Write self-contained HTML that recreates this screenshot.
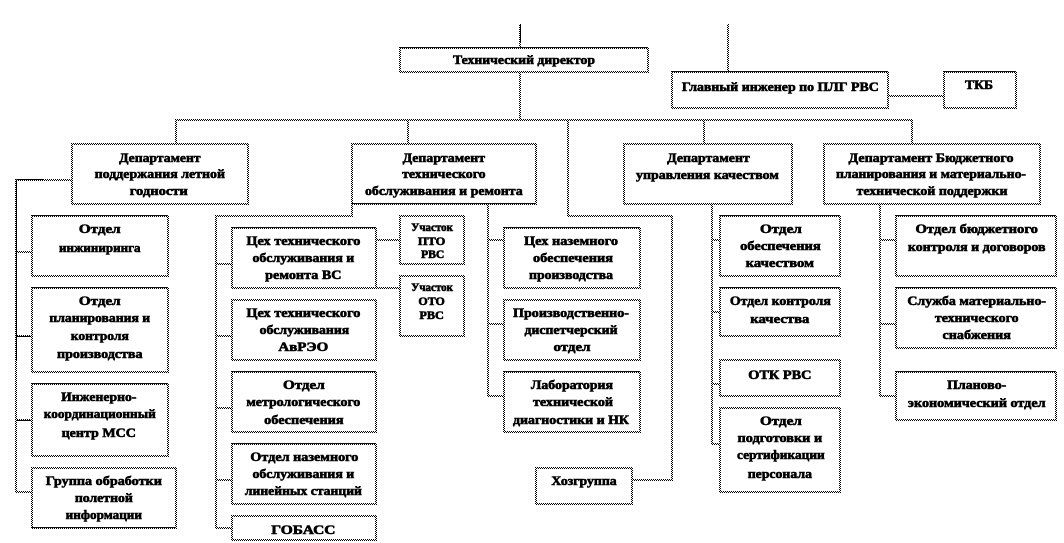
<!DOCTYPE html>
<html><head><meta charset="utf-8">
<style>
html,body{margin:0;padding:0;background:#fff;width:1064px;height:543px;overflow:hidden}
svg{display:block}
text{font-family:"Liberation Serif","DejaVu Serif",serif;font-weight:bold;font-size:13px;fill:#000;stroke:#000;stroke-width:.6;text-anchor:middle}
text.s{font-size:11.5px}
.l{fill:none;stroke:url(#c);stroke-width:2;shape-rendering:crispEdges}
.k{fill:none;stroke:#000;stroke-width:1;shape-rendering:crispEdges}
.b{fill:#fff;stroke:url(#c);stroke-width:2;shape-rendering:crispEdges}
.t{fill:none;stroke:#111;stroke-width:1;shape-rendering:crispEdges}
</style></head><body>
<svg width="1064" height="543" viewBox="0 0 1064 543" xmlns="http://www.w3.org/2000/svg">
<defs><pattern id="c" width="2" height="2" patternUnits="userSpaceOnUse"><rect width="2" height="2" fill="#fff"/><rect width="1" height="1" fill="#000"/><rect x="1" y="1" width="1" height="1" fill="#000"/></pattern></defs>

<!-- connectors -->
<path class="l" d="M520 24V120M176 144V120H912V144M408 120V144M704 120V144M568 120V216H672V480H632M728 24V72M888 96H944"/>
<path class="k" d="M520.500 24V42"/>
<path class="l" d="M72 180H16V492H32M16 252H32M16 336H32M16 420H32"/>
<path class="k" d="M16.500 179.500V360M16.500 179.500H43M16 336.500H32M16 420.500H32"/>
<path class="l" d="M352 204V216H216V528H232M216 264H232M216 336H232M216 408H232M216 480H232M376 240H400M376 288H400"/>
<path class="l" d="M488 204V396H504M488 240H504M488 324H504"/>
<path class="l" d="M712 204V444H720M712 240H720M712 312H720M712 384H720"/>
<path class="l" d="M880 204V396H896M880 240H896M880 324H896"/>

<!-- boxes -->
<rect class="b" x="400" y="48" width="248" height="24"/><path class="t" d="M400 47.500H648"/>
<rect class="b" x="672" y="72" width="216" height="36"/><path class="t" d="M672 71.500H888"/>
<rect class="b" x="944" y="72" width="72" height="36"/><path class="t" d="M944 71.500H1016"/>
<rect class="b" x="72" y="144" width="176" height="60"/>
<rect class="b" x="352" y="144" width="184" height="60"/><path class="t" d="M352 203.500H536"/>
<rect class="b" x="624" y="144" width="168" height="60"/>
<rect class="b" x="824" y="144" width="216" height="60"/>

<rect class="b" x="32" y="216" width="136" height="60"/><path class="t" d="M32 215.500H168"/>
<rect class="b" x="32" y="288" width="136" height="84"/><path class="t" d="M32 287.500H168"/>
<rect class="b" x="32" y="384" width="136" height="72"/><path class="t" d="M32 383.500H168"/>
<rect class="b" x="32" y="468" width="144" height="60"/><path class="t" d="M32 527.500H176"/>

<rect class="b" x="232" y="228" width="144" height="60"/><path class="t" d="M232 227.500H376"/>
<rect class="b" x="232" y="300" width="144" height="60"/>
<rect class="b" x="232" y="372" width="144" height="60"/><path class="t" d="M232 371.500H376"/>
<rect class="b" x="232" y="444" width="144" height="60"/><path class="t" d="M232 443.500H376"/>
<rect class="b" x="232" y="516" width="144" height="24"/>

<rect class="b" x="400" y="216" width="64" height="48"/>
<rect class="b" x="400" y="276" width="64" height="60"/>

<rect class="b" x="504" y="228" width="136" height="60"/><path class="t" d="M504 227.500H640"/>
<rect class="b" x="504" y="300" width="136" height="60"/>
<rect class="b" x="504" y="372" width="136" height="60"/><path class="t" d="M504 371.500H640"/>
<rect class="b" x="536" y="468" width="96" height="36"/>

<rect class="b" x="720" y="216" width="120" height="60"/><path class="t" d="M720 215.500H840"/>
<rect class="b" x="720" y="288" width="120" height="48"/><path class="t" d="M720 287.500H840"/>
<rect class="b" x="720" y="360" width="120" height="36"/>
<rect class="b" x="720" y="408" width="120" height="84"/>

<rect class="b" x="896" y="216" width="160" height="60"/><path class="t" d="M896 215.500H1056"/>
<rect class="b" x="896" y="288" width="160" height="60"/><path class="t" d="M896 287.500H1056"/>
<rect class="b" x="896" y="372" width="160" height="48"/><path class="t" d="M896 371.500H1056"/>

<!-- labels: absolute -->
<text x="524" y="64" textLength="142" lengthAdjust="spacingAndGlyphs">Технический директор</text>
<text x="979" y="89" textLength="28" lengthAdjust="spacingAndGlyphs">ТКБ</text>
<text x="931" y="162" textLength="165" lengthAdjust="spacingAndGlyphs">Департамент Бюджетного</text>
<text x="931" y="178" textLength="190" lengthAdjust="spacingAndGlyphs">планирования  и материально-</text>
<text x="932" y="195" textLength="151" lengthAdjust="spacingAndGlyphs">технической поддержки</text>

<text x="571" y="245" textLength="94" lengthAdjust="spacingAndGlyphs">Цех наземного</text>
<text x="573" y="262" textLength="80" lengthAdjust="spacingAndGlyphs">обеспечения</text>
<text x="571" y="279" textLength="84" lengthAdjust="spacingAndGlyphs">производства</text>
<text x="571" y="317" textLength="116" lengthAdjust="spacingAndGlyphs">Производственно-</text>
<text x="571" y="334" textLength="93" lengthAdjust="spacingAndGlyphs">диспетчерский</text>
<text x="572" y="351" textLength="37" lengthAdjust="spacingAndGlyphs">отдел</text>
<text x="572" y="389" textLength="82" lengthAdjust="spacingAndGlyphs">Лаборатория</text>
<text x="573" y="406" textLength="80" lengthAdjust="spacingAndGlyphs">технической</text>
<text x="571" y="424" textLength="116" lengthAdjust="spacingAndGlyphs">диагностики и НК</text>

<!-- labels: left half -->
<g transform="scale(1.018 1)">
<text x="157" y="162" textLength="80" lengthAdjust="spacingAndGlyphs">Департамент</text>
<text x="157" y="178" textLength="128" lengthAdjust="spacingAndGlyphs">поддержания летной</text>
<text x="156" y="195" textLength="57" lengthAdjust="spacingAndGlyphs">годности</text>

<text x="436" y="162" textLength="81" lengthAdjust="spacingAndGlyphs">Департамент</text>
<text x="436" y="178" textLength="82" lengthAdjust="spacingAndGlyphs">технического</text>
<text x="436" y="195" textLength="155" lengthAdjust="spacingAndGlyphs">обслуживания и ремонта</text>

<text x="98" y="233" textLength="41" lengthAdjust="spacingAndGlyphs">Отдел</text>
<text x="98" y="252" textLength="80" lengthAdjust="spacingAndGlyphs">инжиниринга</text>
<text x="98" y="305" textLength="41" lengthAdjust="spacingAndGlyphs">Отдел</text>
<text x="98" y="322" textLength="99" lengthAdjust="spacingAndGlyphs">планирования  и</text>
<text x="98" y="340" textLength="57" lengthAdjust="spacingAndGlyphs">контроля</text>
<text x="98" y="358" textLength="84" lengthAdjust="spacingAndGlyphs">производства</text>
<text x="97" y="401" textLength="74" lengthAdjust="spacingAndGlyphs">Инженерно-</text>
<text x="98" y="418" textLength="110" lengthAdjust="spacingAndGlyphs">координационный</text>
<text x="97" y="437" textLength="73" lengthAdjust="spacingAndGlyphs">центр МСС</text>
<text x="102" y="485" textLength="114" lengthAdjust="spacingAndGlyphs">Группа обработки</text>
<text x="102" y="502" textLength="57" lengthAdjust="spacingAndGlyphs">полетной</text>
<text x="102" y="519" textLength="75" lengthAdjust="spacingAndGlyphs">информации</text>

<text x="298" y="245" textLength="112" lengthAdjust="spacingAndGlyphs">Цех технического</text>
<text x="298" y="262" textLength="100" lengthAdjust="spacingAndGlyphs">обслуживания и</text>
<text x="298" y="279" textLength="75" lengthAdjust="spacingAndGlyphs">ремонта ВС</text>
<text x="298" y="317" textLength="112" lengthAdjust="spacingAndGlyphs">Цех технического</text>
<text x="299" y="334" textLength="88" lengthAdjust="spacingAndGlyphs">обслуживания</text>
<text x="298" y="351" textLength="49" lengthAdjust="spacingAndGlyphs">АвРЭО</text>
<text x="298.500" y="389" textLength="41" lengthAdjust="spacingAndGlyphs">Отдел</text>
<text x="298" y="406" textLength="112" lengthAdjust="spacingAndGlyphs">метрологического</text>
<text x="298.500" y="424" textLength="78" lengthAdjust="spacingAndGlyphs">обеспечения</text>
<text x="299" y="461" textLength="106" lengthAdjust="spacingAndGlyphs">Отдел наземного</text>
<text x="298" y="478" textLength="100" lengthAdjust="spacingAndGlyphs">обслуживания и</text>
<text x="298" y="495" textLength="115" lengthAdjust="spacingAndGlyphs">линейных  станций</text>
<text x="298" y="534" textLength="63" lengthAdjust="spacingAndGlyphs">ГОБАСС</text>

<text class="s" x="424.500" y="231" textLength="41" lengthAdjust="spacingAndGlyphs">Участок</text>
<text class="s" x="424" y="245" textLength="27" lengthAdjust="spacingAndGlyphs">ПТО</text>
<text class="s" x="425" y="258" textLength="23" lengthAdjust="spacingAndGlyphs">РВС</text>
<text class="s" x="424.500" y="291" textLength="41" lengthAdjust="spacingAndGlyphs">Участок</text>
<text class="s" x="424" y="305" textLength="26" lengthAdjust="spacingAndGlyphs">ОТО</text>
<text class="s" x="424" y="319" textLength="24" lengthAdjust="spacingAndGlyphs">РВС</text>
</g>

<!-- labels: right half -->
<g transform="translate(532 0) scale(1.02 1) translate(-532 0)">
<text x="775.500" y="91" textLength="193" lengthAdjust="spacingAndGlyphs">Главный инженер  по ПЛГ РВС</text>
<text x="705" y="162" textLength="81" lengthAdjust="spacingAndGlyphs">Департамент</text>
<text x="704" y="179" textLength="140" lengthAdjust="spacingAndGlyphs">управления  качеством</text>

<text x="583" y="485" textLength="64" lengthAdjust="spacingAndGlyphs">Хозгруппа</text>

<text x="776" y="233" textLength="41" lengthAdjust="spacingAndGlyphs">Отдел</text>
<text x="775.500" y="250" textLength="79" lengthAdjust="spacingAndGlyphs">обеспечения</text>
<text x="775" y="267" textLength="67" lengthAdjust="spacingAndGlyphs">качеством</text>
<text x="775.500" y="305" textLength="99" lengthAdjust="spacingAndGlyphs">Отдел контроля</text>
<text x="775" y="323" textLength="58" lengthAdjust="spacingAndGlyphs">качества</text>
<text x="775" y="379" textLength="62" lengthAdjust="spacingAndGlyphs">ОТК РВС</text>
<text x="776" y="425" textLength="41" lengthAdjust="spacingAndGlyphs">Отдел</text>
<text x="775" y="442" textLength="83" lengthAdjust="spacingAndGlyphs">подготовки и</text>
<text x="776" y="459" textLength="86" lengthAdjust="spacingAndGlyphs">сертификации</text>
<text x="775" y="478" textLength="63" lengthAdjust="spacingAndGlyphs">персонала</text>

<text x="968" y="233" textLength="120" lengthAdjust="spacingAndGlyphs">Отдел бюджетного</text>
<text x="968" y="251" textLength="135" lengthAdjust="spacingAndGlyphs">контроля и договоров</text>
<text x="968" y="305" textLength="136" lengthAdjust="spacingAndGlyphs">Служба материально-</text>
<text x="968" y="322" textLength="82" lengthAdjust="spacingAndGlyphs">технического</text>
<text x="968" y="339" textLength="67" lengthAdjust="spacingAndGlyphs">снабжения</text>
<text x="968" y="389" textLength="58" lengthAdjust="spacingAndGlyphs">Планово-</text>
<text x="968" y="407" textLength="135" lengthAdjust="spacingAndGlyphs">экономический  отдел</text>
</g>
</svg>
</body></html>
